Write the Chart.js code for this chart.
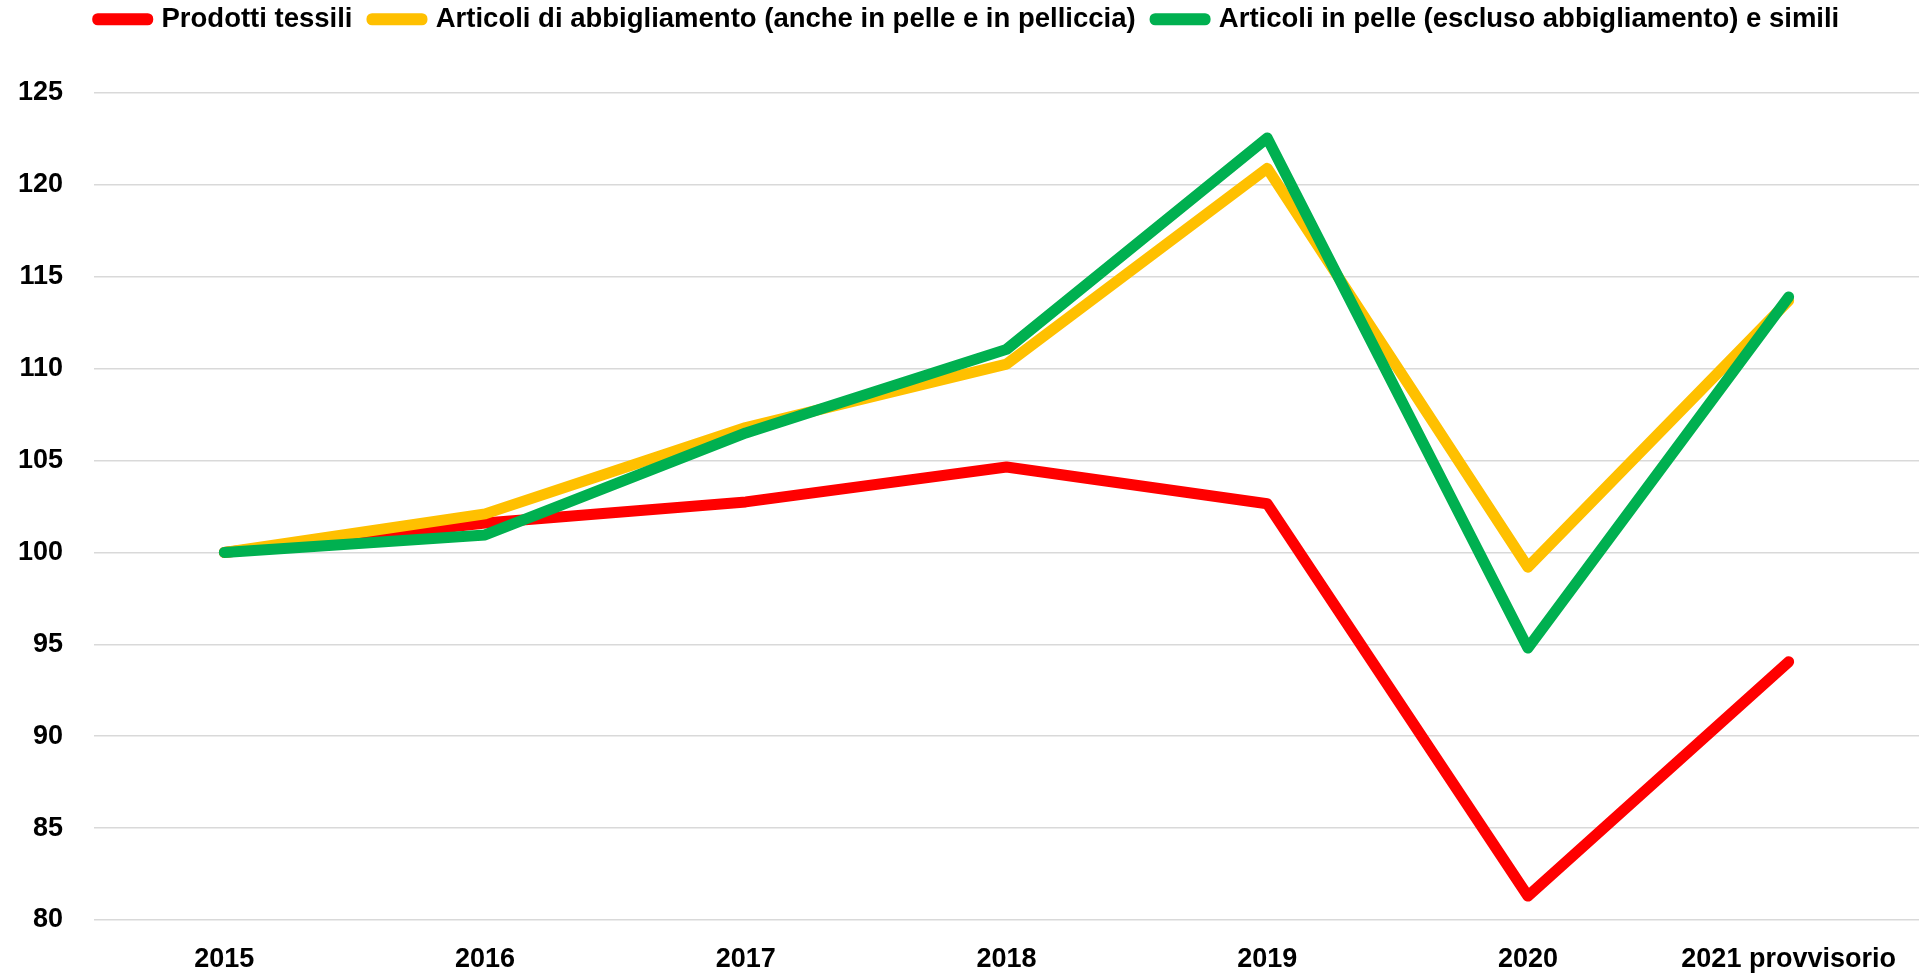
<!DOCTYPE html>
<html lang="it">
<head>
<meta charset="utf-8">
<title>Fatturato tessile, abbigliamento e pelle</title>
<script src="https://cdn.jsdelivr.net/npm/chart.js@4.4.1/dist/chart.umd.min.js"></script>
<style>
    html, body { margin: 0; padding: 0; background: #fff; overflow: hidden; }
    #wrap { position: absolute; left: 0; top: 0; width: 1919px; height: 977px; }
</style>
</head>
<body>
<div id="wrap"><canvas id="chart" width="1919" height="977"></canvas></div>
<script>
// valori (indice 2015 = 100)
const anni = ['2015', '2016', '2017', '2018', '2019', '2020', '2021 provvisorio'];
const prodottiTessili = [100, 101.6, 102.75, 104.65, 102.65, 81.3, 94.05];
const abbigliamento = [100, 102.1, 106.8, 110.25, 120.9, 99.2, 113.7];
const pelle = [100, 100.95, 106.5, 111.05, 122.55, 94.8, 113.9];
const yTicks = [80, 85, 90, 95, 100, 105, 110, 115, 120, 125];

const FONT = "'Liberation Sans', Arial, sans-serif";

function serie(label, data, color, order) {
    return {
        label: label,
        data: data,
        borderColor: color,
        backgroundColor: color,
        borderWidth: 11,
        borderCapStyle: 'round',
        borderJoinStyle: 'round',
        pointRadius: 0,
        tension: 0,
        order: order
    };
}

// spazio fisso sotto la legenda
const legendSpace = {
    id: 'legendSpace',
    beforeInit(chart) {
        const fit = chart.legend.fit;
        chart.legend.fit = function () {
            fit.bind(chart.legend)();
            this.height = 107;
        };
    }
};

const ctx = document.getElementById('chart').getContext('2d');
new Chart(ctx, {
    type: 'line',
    data: {
        labels: anni,
        datasets: [
            serie('Prodotti tessili', prodottiTessili, '#FF0000', 3),
            serie('Articoli di abbigliamento (anche in pelle e in pelliccia)', abbigliamento, '#FFC000', 2),
            serie('Articoli in pelle (escluso abbigliamento) e simili', pelle, '#00B050', 1)
        ]
    },
    options: {
        responsive: false,
        animation: false,
        layout: { padding: { left: 18, right: 0, top: -14, bottom: 1 } },
        scales: {
            x: {
                offset: true,
                grid: { display: false, drawTicks: false },
                border: { display: false },
                afterFit: axis => { axis.height = 56; },
                ticks: {
                    color: '#000',
                    padding: 23,
                    maxRotation: 0,
                    autoSkip: false,
                    font: { family: FONT, size: 27, weight: 'bold' }
                }
            },
            y: {
                min: yTicks[0],
                max: yTicks[yTicks.length - 1],
                afterBuildTicks: axis => { axis.ticks = yTicks.map(v => ({ value: v })); },
                afterFit: axis => { axis.width = 76; },
                grid: { color: '#D9D9D9', lineWidth: 1.5, drawTicks: false },
                border: { display: false },
                ticks: {
                    color: '#000',
                    padding: 31,
                    font: { family: FONT, size: 27, weight: 'bold' }
                }
            }
        },
        plugins: {
            legend: {
                display: true,
                position: 'top',
                labels: {
                    color: '#000',
                    boxWidth: 50,
                    boxHeight: 1,
                    padding: 19.5,
                    font: { family: FONT, size: 27.5, weight: 'bold' },
                    sort: (a, b) => a.datasetIndex - b.datasetIndex
                }
            },
            tooltip: { enabled: false }
        }
    },
    plugins: [legendSpace]
});
</script>
</body>
</html>
